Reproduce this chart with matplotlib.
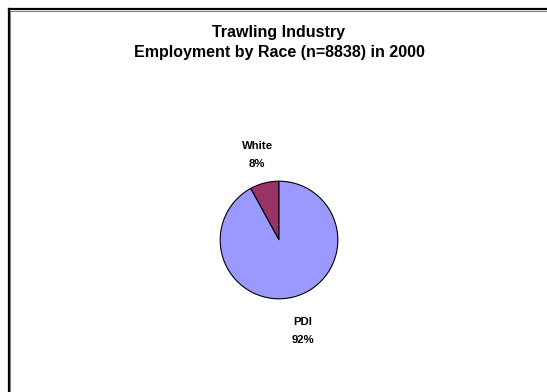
import matplotlib
matplotlib.use("Agg")
import matplotlib.pyplot as plt
from matplotlib.lines import Line2D

labels = ["White", "PDI"]
shares = [8, 92]
colors = ["#993366", "#9999FF"]

plt.rcParams["font.family"] = ["Liberation Sans", "DejaVu Sans"]

W, H = 547, 392
fig = plt.figure(figsize=(W / 100, H / 100), dpi=100)

# pie axes: center (279, 240) px, radius 60 px
cx, cy, r = 279, 240, 60
ax = fig.add_axes([(cx - r) / W, (H - cy - r) / H, 2 * r / W, 2 * r / H])
wedges, texts = ax.pie(
    shares,
    labels=[f"{l}\n{v}%" for l, v in zip(labels, shares)],
    colors=colors,
    startangle=90,
    counterclock=True,
    labeldistance=1.5,
    wedgeprops=dict(edgecolor="black", linewidth=0.8),
    textprops=dict(fontsize=8.2, fontweight="bold", linespacing=2.0),
)
for t in texts:
    t.set_ha("center")
    t.set_va("center")
    t.set_multialignment("center")
# PDI label sits a little further below the pie
x, y = texts[1].get_position()
texts[1].set_position((x + 0.03, y - 0.1))
ax.set_xlim(-1.02, 1.02)
ax.set_ylim(-1.02, 1.02)
ax.set_aspect("equal")

fig.text(cx / W, 1 - 33 / H, "Trawling Industry", ha="center", va="center",
         fontsize=11.5, fontweight="bold")
fig.text(cx / W, 1 - 52 / H, "Employment by Race (n=8838) in 2000", ha="center",
         va="center", fontsize=11.5, fontweight="bold")

# chart frame: top and left edges
fig.add_artist(Line2D([8.5 / W, 8.5 / W], [0, 1 - 9 / H], color="black", lw=1.6))
fig.add_artist(Line2D([8.5 / W, 1], [1 - 9 / H, 1 - 9 / H], color="black", lw=1.6))
fig.add_artist(Line2D([10 / W, 10 / W], [0, 1 - 10.5 / H], color="#808080", lw=0.8))
fig.add_artist(Line2D([10 / W, 1], [1 - 10.5 / H, 1 - 10.5 / H], color="#808080", lw=0.8))

fig.savefig("out.png", dpi=100)
